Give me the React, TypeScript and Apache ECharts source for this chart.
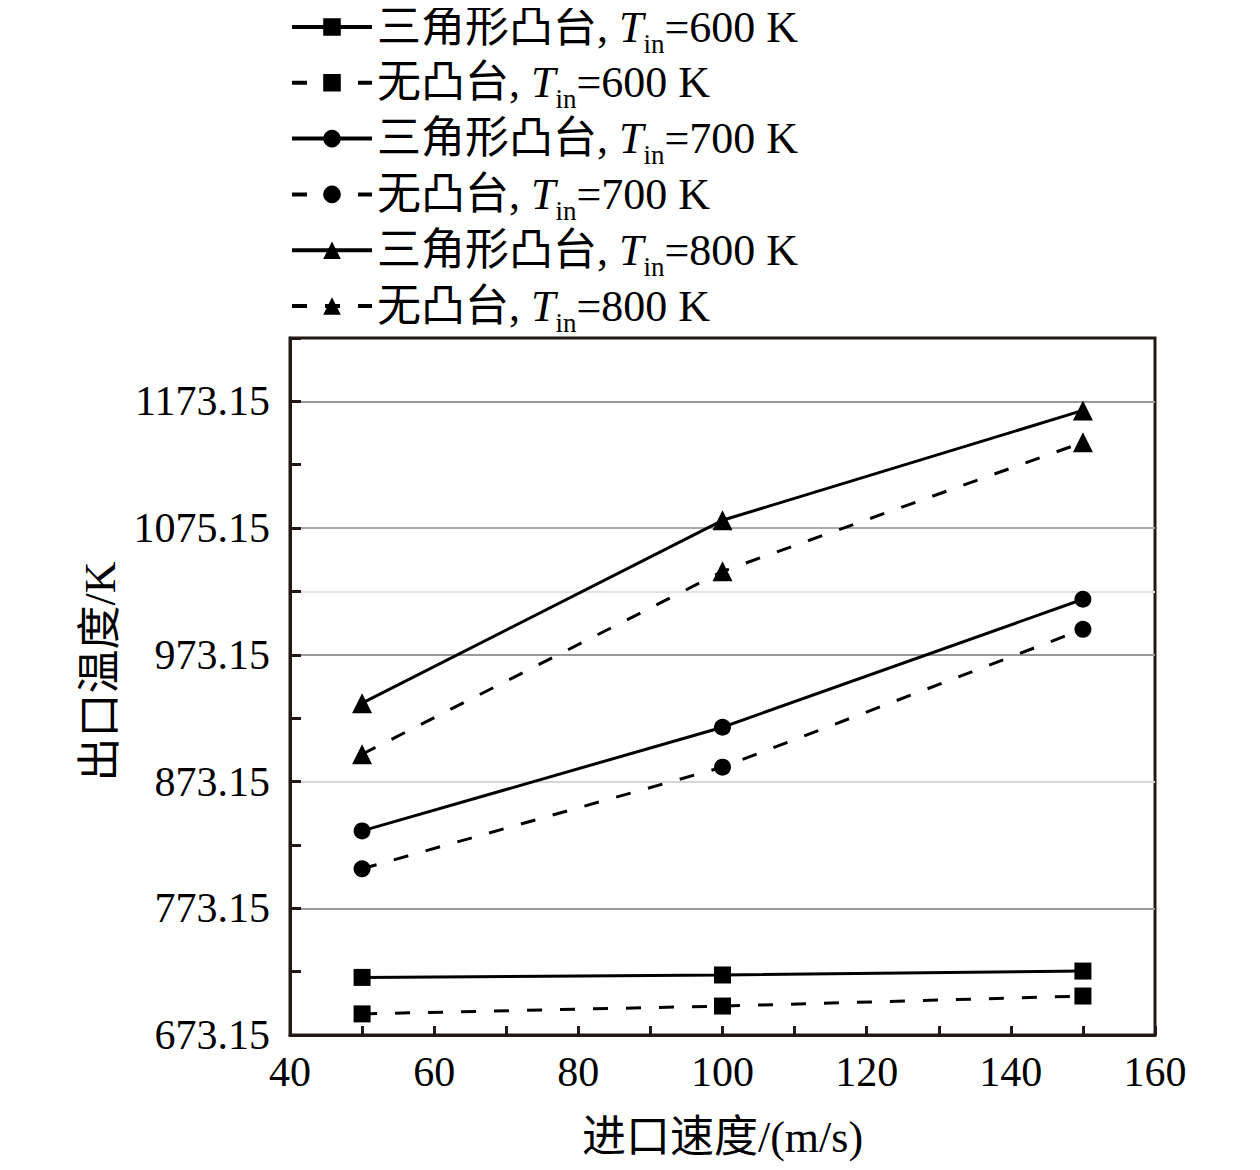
import React, { useEffect, useRef } from "react";
import * as echarts from "echarts";

const speeds = [50, 100, 150];
const seriesNames = [
  "三角形凸台, Tin=600 K",
  "无凸台, Tin=600 K",
  "三角形凸台, Tin=700 K",
  "无凸台, Tin=700 K",
  "三角形凸台, Tin=800 K",
  "无凸台, Tin=800 K",
];
const boss600 = [718.6, 720.5, 723.6];
const plain600 = [689.8, 696.0, 703.9];
const boss700 = [834.2, 916.0, 1017.0];
const plain700 = [804.3, 884.5, 993.3];
const boss800 = [935.0, 1079.3, 1166.0];
const plain800 = [894.7, 1039.0, 1140.8];
const seriesValues = [boss600, plain600, boss700, plain700, boss800, plain800];
const seriesSymbols = ["rect", "rect", "circle", "circle", "triangle", "triangle"];
const seriesDashed = [false, true, false, true, false, true];

const yTickLabels = ["673.15", "773.15", "873.15", "973.15", "1075.15", "1173.15"];
const xTickLabels = ["40", "60", "80", "100", "120", "140", "160"];

const SERIF = '"Liberation Serif", "Times New Roman", "Noto Sans CJK SC", serif';
const CJK = '"Liberation Serif", "Noto Sans CJK SC", serif';
const INK = "#231815";

export default function App() {
  const ref = useRef<HTMLDivElement>(null);
  useEffect(() => {
    if (!ref.current) return;
    const chart = echarts.init(ref.current, undefined, { renderer: "svg" });
    const series = seriesNames.map((name, i) => ({
      name,
      type: "line",
      data: speeds.map((x, j) => [x, seriesValues[i][j]]),
      symbol: seriesSymbols[i],
      symbolSize: seriesSymbols[i] === "triangle" ? 20 : 17,
      itemStyle: { color: "#000" },
      lineStyle: {
        color: "#000",
        width: 3,
        type: seriesDashed[i] ? [15, 18] : "solid",
      },
      z: 5,
    }));
    chart.setOption({
      animation: false,
      backgroundColor: "#fff",
      grid: {
        left: 290,
        top: 338,
        width: 865,
        height: 697,
        show: true,
        borderColor: INK,
        borderWidth: 3,
        backgroundColor: "transparent",
      },
      legend: {
        orient: "vertical",
        left: 290,
        top: 5,
        itemWidth: 80,
        itemHeight: 22,
        itemGap: 3.8,
        padding: 0,
        data: seriesNames,
        lineStyle: { width: 4 },
        textStyle: {
          fontFamily: CJK,
          fontSize: 44,
          color: "#000",
          lineHeight: 44,
          rich: {
            it: { fontFamily: SERIF, fontStyle: "italic", fontSize: 44, color: "#000", lineHeight: 44 },
            sub: {
              fontFamily: SERIF,
              fontSize: 27,
              color: "#000",
              lineHeight: 10,
              verticalAlign: "bottom",
              padding: [0, 0, -8, 0],
            },
          },
        },
        formatter: (name: string) => name.replace("Tin", "{it|T}{sub|in}"),
      },
      xAxis: {
        type: "value",
        min: 40,
        max: 160,
        interval: 10,
        name: "进口速度/(m/s)",
        nameLocation: "middle",
        nameGap: 80,
        nameTextStyle: { fontFamily: CJK, fontSize: 44, color: "#000" },
        axisLine: { show: true, lineStyle: { color: INK, width: 3 } },
        axisTick: { show: true, inside: true, length: 9, lineStyle: { color: INK, width: 3 } },
        axisLabel: {
          fontFamily: SERIF,
          fontSize: 42,
          color: "#000",
          margin: 16,
          formatter: (v: number) => {
            const k = Math.round((v - 40) / 10);
            return k % 2 === 0 ? xTickLabels[k / 2] : "";
          },
        },
        splitLine: { show: false },
      },
      yAxis: {
        type: "value",
        min: 673.15,
        max: 1223.15,
        interval: 50,
        name: "出口温度/K",
        nameLocation: "middle",
        nameRotate: 90,
        nameGap: 166,
        nameTextStyle: { fontFamily: CJK, fontSize: 44, color: "#000", padding: [0, 0, 0, 30] },
        axisLine: { show: true, lineStyle: { color: INK, width: 3 } },
        axisTick: { show: true, inside: true, length: 11, lineStyle: { color: INK, width: 3 } },
        axisLabel: {
          fontFamily: SERIF,
          fontSize: 42,
          color: "#000",
          margin: 20,
          formatter: (v: number) => {
            const k = Math.round((v - 673.15) / 50);
            return k % 2 === 0 && k / 2 < yTickLabels.length ? yTickLabels[k / 2] : "";
          },
        },
        splitLine: {
          show: true,
          lineStyle: {
            width: 2,
            color: [
              "#999", "rgba(0,0,0,0)", "#999", "rgba(0,0,0,0)", "#d6d6d6", "rgba(0,0,0,0)",
              "#999", "#e2e2e2", "#aaa", "rgba(0,0,0,0)", "#999", "rgba(0,0,0,0)",
            ],
          },
        },
      },
      series,
    });
    return () => chart.dispose();
  }, []);
  return (
    <div
      ref={ref}
      style={{ width: 1260, height: 1170, marginTop: -8, marginLeft: -8, marginRight: -8 }}
    />
  );
}
